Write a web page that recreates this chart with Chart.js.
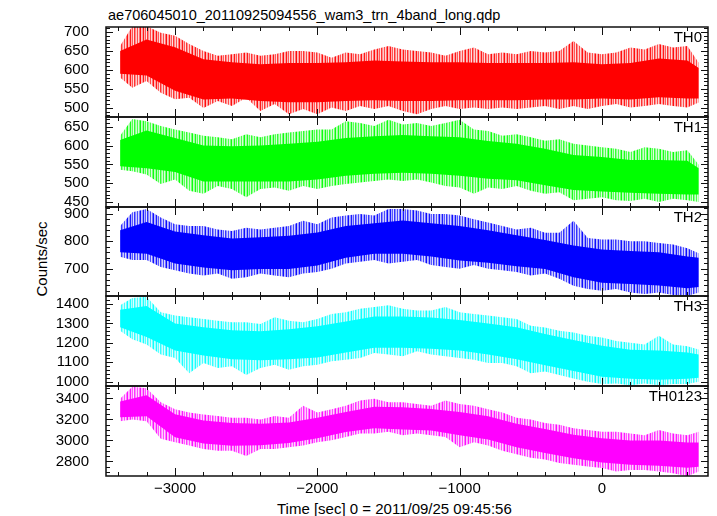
<!DOCTYPE html>
<html>
<head>
<meta charset="utf-8">
<title>ae706045010 WAM light curve</title>
<script src="https://cdn.jsdelivr.net/npm/chart.js@4.4.1/dist/chart.umd.min.js"></script>
<style>
  html, body { margin: 0; padding: 0; background: #fff; }
  #plot { position: relative; width: 717px; height: 516px; overflow: hidden; font-family: 'Liberation Sans', Arial, sans-serif; color: #000; }
  #plot canvas { position: absolute; left: 0; }
  .lc-text { position: absolute; white-space: nowrap; font-size: 15px; line-height: 1; }
  #lc-title { left: 108px; top: 8px; font-size: 14.5px; }
  #lc-xlabel { left: 277px; top: 501px; }
  #lc-ylabel { left: 41px; top: 259px; transform: translate(-50%, -50%) rotate(-90deg); }
</style>
</head>
<body>
<div id="plot">
  <div class="lc-text" id="lc-title">ae706045010_20110925094556_wam3_trn_4band_long.qdp</div>
  <div class="lc-text" id="lc-xlabel">Time [sec] 0 = 2011/09/25 09:45:56</div>
  <div class="lc-text" id="lc-ylabel">Counts/sec</div>
</div>
<script>
// time grid of the envelope readings (sec from 2011/09/25 09:45:56)
const timeFine = [-3386, -3300, -3200, -3100, -3000, -2900, -2800, -2700, -2600, -2500, -2400, -2300, -2200, -2100,
  -2000, -1900, -1800, -1700, -1600, -1500, -1400, -1300, -1200, -1100, -1000, -900, -800, -700, -600, -500,
  -400, -300, -200, -100, 0, 100, 200, 300, 400, 500, 600, 680];
const timeCoarse = [-3386, -3200, -3000, -2800, -2600, -2400, -2200, -2000, -1800, -1600, -1400, -1200, -1000,
  -800, -600, -400, -200, 0, 200, 400, 600, 680];

// spike extremes (outer) and dense core of each band, counts/sec
const th0High = [663, 715, 715, 698, 690, 668, 650, 637, 641, 646, 637, 641, 650, 650, 646, 632, 646, 641, 654, 663,
  654, 650, 646, 637, 650, 659, 641, 646, 641, 650, 646, 650, 676, 646, 641, 646, 659, 654, 668, 659, 663, 619];
const th0Low = [580, 553, 571, 540, 523, 527, 500, 518, 505, 527, 492, 510, 483, 497, 483, 501, 492, 505, 497, 505,
  492, 483, 497, 505, 497, 501, 497, 501, 497, 501, 505, 497, 505, 497, 505, 510, 501, 505, 510, 505, 501, 514];
const th0CoreHigh = [650, 680, 660, 628, 620, 615, 618, 618, 620, 625, 622, 620, 620, 618, 618, 618, 620, 615, 618, 630, 625, 605];
const th0CoreLow = [590, 585, 545, 522, 525, 518, 515, 515, 518, 520, 518, 518, 520, 520, 520, 522, 522, 525, 522, 528, 525, 525];

const th1High = [626, 671, 665, 652, 643, 635, 626, 622, 617, 630, 622, 630, 635, 639, 643, 643, 665, 660, 652, 669,
  656, 660, 652, 660, 669, 643, 639, 626, 630, 622, 613, 617, 605, 600, 596, 592, 583, 596, 592, 583, 588, 549];
const th1Low = [536, 532, 523, 498, 510, 480, 472, 493, 485, 463, 485, 489, 480, 493, 485, 493, 498, 502, 506, 510,
  506, 510, 502, 493, 489, 472, 489, 485, 493, 480, 472, 476, 455, 459, 463, 455, 453, 459, 450, 459, 455, 450];
const th1CoreHigh = [615, 640, 620, 600, 598, 600, 605, 610, 620, 625, 628, 625, 622, 612, 605, 592, 575, 570, 562, 562, 560, 540];
const th1CoreLow = [545, 540, 530, 505, 505, 505, 505, 510, 520, 525, 528, 525, 520, 512, 508, 495, 482, 478, 475, 472, 470, 470];

const th2High = [855, 905, 917, 886, 862, 855, 855, 843, 837, 849, 843, 849, 855, 874, 862, 886, 893, 899, 893, 917,
  917, 911, 899, 899, 893, 880, 868, 855, 843, 849, 831, 831, 874, 812, 806, 806, 800, 800, 794, 788, 775, 757];
const th2Low = [744, 732, 732, 707, 695, 683, 676, 683, 664, 670, 683, 676, 670, 683, 689, 701, 720, 726, 732, 720,
  726, 732, 714, 707, 701, 714, 701, 695, 689, 676, 683, 664, 639, 627, 621, 627, 615, 609, 615, 606, 602, 615];
const th2CoreHigh = [840, 870, 835, 822, 810, 815, 820, 832, 855, 865, 875, 865, 855, 840, 822, 805, 785, 770, 765, 760, 745, 740];
const th2CoreLow = [760, 755, 720, 705, 695, 700, 700, 712, 740, 755, 755, 745, 730, 722, 710, 700, 670, 650, 645, 640, 630, 635];

const th3High = [1393, 1431, 1437, 1358, 1341, 1332, 1323, 1314, 1306, 1306, 1297, 1332, 1314, 1306, 1323, 1349, 1358,
  1376, 1384, 1393, 1376, 1367, 1367, 1384, 1358, 1349, 1341, 1332, 1323, 1288, 1279, 1262, 1253, 1236, 1227, 1210,
  1201, 1192, 1236, 1192, 1183, 1166];
const th3Low = [1262, 1218, 1192, 1140, 1122, 1044, 1096, 1070, 1079, 1035, 1070, 1087, 1061, 1079, 1087, 1105, 1113,
  1122, 1148, 1140, 1131, 1157, 1140, 1131, 1122, 1113, 1096, 1096, 1079, 1044, 1052, 1035, 1017, 1000, 988, 991,
  982, 991, 982, 988, 988, 1000];
const th3CoreHigh = [1370, 1390, 1300, 1280, 1265, 1260, 1270, 1285, 1310, 1335, 1335, 1330, 1318, 1300, 1280, 1245, 1215, 1185, 1165, 1160, 1150, 1140];
const th3CoreLow = [1280, 1230, 1160, 1135, 1115, 1110, 1115, 1125, 1150, 1175, 1175, 1170, 1160, 1140, 1115, 1085, 1055, 1025, 1015, 1010, 1015, 1020];

const th0123High = [3397, 3512, 3496, 3364, 3298, 3265, 3248, 3232, 3215, 3215, 3199, 3232, 3215, 3331, 3265, 3298,
  3331, 3380, 3397, 3364, 3364, 3347, 3331, 3380, 3347, 3331, 3298, 3265, 3215, 3199, 3166, 3149, 3116, 3100, 3083,
  3083, 3067, 3050, 3100, 3067, 3050, 3083];
const th0123Low = [3182, 3199, 3182, 3017, 2984, 2951, 2918, 2902, 2902, 2852, 2918, 2918, 2935, 2951, 2984, 3001,
  3034, 3067, 3067, 3083, 3050, 3067, 3050, 3034, 2935, 2984, 2951, 2902, 2869, 2836, 2819, 2786, 2770, 2753, 2737,
  2704, 2720, 2720, 2704, 2687, 2660, 2704];
const th0123CoreHigh = [3370, 3430, 3250, 3190, 3165, 3160, 3170, 3215, 3270, 3320, 3315, 3300, 3270, 3230, 3160, 3110, 3055, 3020, 3000, 3000, 2980, 2980];
const th0123CoreLow = [3220, 3230, 3030, 2970, 2950, 2955, 2975, 3020, 3080, 3115, 3105, 3095, 3050, 3010, 2935, 2880, 2830, 2790, 2770, 2760, 2740, 2750];

// tick labels
const bandNames = ['TH0', 'TH1', 'TH2', 'TH3', 'TH0123'];
const xTickValues = [-3000, -2000, -1000, 0];
const th0Ticks = [500, 550, 600, 650, 700];
const th1Ticks = [450, 500, 550, 600, 650];
const th2Ticks = [700, 800, 900];
const th3Ticks = [1000, 1100, 1200, 1300, 1400];
const th0123Ticks = [2800, 3000, 3200, 3400];

(function () {
  'use strict';

  const FONT = "'Liberation Sans', Arial, sans-serif";
  const X_MIN = -3485;
  const X_MAX = 745;
  const PAD = 10;

  const panels = [
    { high: th0High, low: th0Low, coreHigh: th0CoreHigh, coreLow: th0CoreLow, ticks: th0Ticks,
      color: '#ff0000', rgb: '255, 0, 0', min: 476, max: 713, minor: 10, major: 50, top: 27, bottom: 117 },
    { high: th1High, low: th1Low, coreHigh: th1CoreHigh, coreLow: th1CoreLow, ticks: th1Ticks,
      color: '#00ff00', rgb: '0, 255, 0', min: 437, max: 676, minor: 10, major: 50, top: 117, bottom: 207 },
    { high: th2High, low: th2Low, coreHigh: th2CoreHigh, coreLow: th2CoreLow, ticks: th2Ticks,
      color: '#0000ff', rgb: '0, 0, 255', min: 602, max: 924, minor: 20, major: 100, top: 207, bottom: 296 },
    { high: th3High, low: th3Low, coreHigh: th3CoreHigh, coreLow: th3CoreLow, ticks: th3Ticks,
      color: '#00ffff', rgb: '0, 255, 255', min: 978, max: 1441, minor: 20, major: 100, top: 296, bottom: 386 },
    { high: th0123High, low: th0123Low, coreHigh: th0123CoreHigh, coreLow: th0123CoreLow, ticks: th0123Ticks,
      color: '#ff00ff', rgb: '255, 0, 255', min: 2662, max: 3518, minor: 50, major: 200, top: 386, bottom: 476 },
  ];

  const toPoints = (times, values) => times.map((t, i) => ({ x: t, y: values[i] }));

  // thin vertical hatching, so the spiky fringe reads like dense bins
  const stripeAlphas = [0.9, 0.3, 0.65, 0.12, 0.8, 0.45, 0.2, 0.7, 0.15, 0.55, 0.95, 0.25, 0.4];
  const stripePattern = (rgb) => {
    const tile = document.createElement('canvas');
    tile.width = stripeAlphas.length;
    tile.height = 1;
    const g = tile.getContext('2d');
    stripeAlphas.forEach((alpha, i) => {
      g.fillStyle = `rgba(${rgb}, ${alpha})`;
      g.fillRect(i, 0, 1, 1);
    });
    return g.createPattern(tile, 'repeat');
  };

  // qdp-style frame: box, inward ticks on all four sides, band name
  const framePlugin = {
    id: 'qdpFrame',
    afterDraw(chart, args, opts) {
      const { ctx, chartArea: a, scales: { x, y } } = chart;
      ctx.save();
      ctx.strokeStyle = '#111';
      ctx.lineWidth = 1;
      ctx.beginPath();
      for (let v = -3400; v <= 600; v += 200) {
        const px = Math.round(x.getPixelForValue(v)) + 0.5;
        const len = v % 1000 === 0 ? 8 : 4;
        ctx.moveTo(px, a.bottom);
        ctx.lineTo(px, a.bottom - len);
        ctx.moveTo(px, a.top);
        ctx.lineTo(px, a.top + len);
      }
      for (let v = Math.ceil(y.min / opts.minor) * opts.minor; v <= y.max; v += opts.minor) {
        const py = Math.round(y.getPixelForValue(v)) + 0.5;
        const len = v % opts.major === 0 ? 7 : 4;
        ctx.moveTo(a.left, py);
        ctx.lineTo(a.left + len, py);
        ctx.moveTo(a.right, py);
        ctx.lineTo(a.right - len, py);
      }
      ctx.stroke();

      ctx.lineWidth = 1.5;
      ctx.beginPath();
      ctx.moveTo(a.left, a.top);
      ctx.lineTo(a.right, a.top);
      ctx.lineTo(a.right, a.bottom);
      ctx.lineTo(a.left, a.bottom);
      ctx.closePath();
      ctx.stroke();

      ctx.fillStyle = '#000';
      ctx.font = `15px ${FONT}`;
      ctx.textAlign = 'right';
      ctx.textBaseline = 'middle';
      ctx.fillText(opts.name, a.right - 6, a.top + 11);
      ctx.restore();
    },
  };

  const plot = document.getElementById('plot');

  panels.forEach((panel, index) => {
    const isLast = index === panels.length - 1;
    const height = panel.bottom - panel.top + PAD + (isLast ? 40 : PAD);
    const canvas = document.createElement('canvas');
    canvas.width = 717;
    canvas.height = height;
    canvas.style.top = `${panel.top - PAD}px`;
    plot.appendChild(canvas);

    const band = { pointRadius: 0, borderColor: 'rgba(0, 0, 0, 0)', borderWidth: 1, tension: 0 };

    new Chart(canvas, {
      type: 'line',
      data: {
        datasets: [
          { ...band, data: toPoints(timeFine, panel.high), backgroundColor: stripePattern(panel.rgb), fill: '+1' },
          { ...band, data: toPoints(timeFine, panel.low), fill: false },
          { ...band, data: toPoints(timeCoarse, panel.coreHigh), backgroundColor: panel.color, fill: '+1' },
          { ...band, data: toPoints(timeCoarse, panel.coreLow), fill: false },
        ],
      },
      options: {
        responsive: false,
        animation: false,
        events: [],
        layout: { padding: { top: PAD, bottom: isLast ? 0 : PAD, left: 0, right: 9 } },
        plugins: {
          legend: { display: false },
          tooltip: { enabled: false },
          qdpFrame: { name: bandNames[index], minor: panel.minor, major: panel.major },
        },
        scales: {
          x: {
            type: 'linear',
            min: X_MIN,
            max: X_MAX,
            display: isLast,
            grid: { display: false },
            border: { display: false },
            ticks: {
              color: '#000',
              font: { family: FONT, size: 15 },
              padding: -4,
              maxRotation: 0,
              autoSkip: false,
              callback: (value) => String(value).replace('-', '\u2212'),
            },
            afterBuildTicks: (scale) => {
              scale.ticks = xTickValues.map((value) => ({ value }));
            },
            afterFit: (scale) => {
              scale.height = isLast ? 40 : 0;
              scale.paddingLeft = 0;
              scale.paddingRight = 0;
            },
          },
          y: {
            type: 'linear',
            min: panel.min,
            max: panel.max,
            grid: { display: false },
            border: { display: false },
            ticks: {
              color: '#000',
              font: { family: FONT, size: 15 },
              padding: 9,
              autoSkip: false,
              callback: (value) => String(value),
            },
            afterBuildTicks: (scale) => {
              scale.ticks = panel.ticks.map((value) => ({ value }));
            },
            afterFit: (scale) => {
              scale.width = 106;
              scale.paddingTop = 0;
              scale.paddingBottom = 0;
            },
          },
        },
      },
      plugins: [framePlugin],
    });
  });
})();
</script>
</body>
</html>
